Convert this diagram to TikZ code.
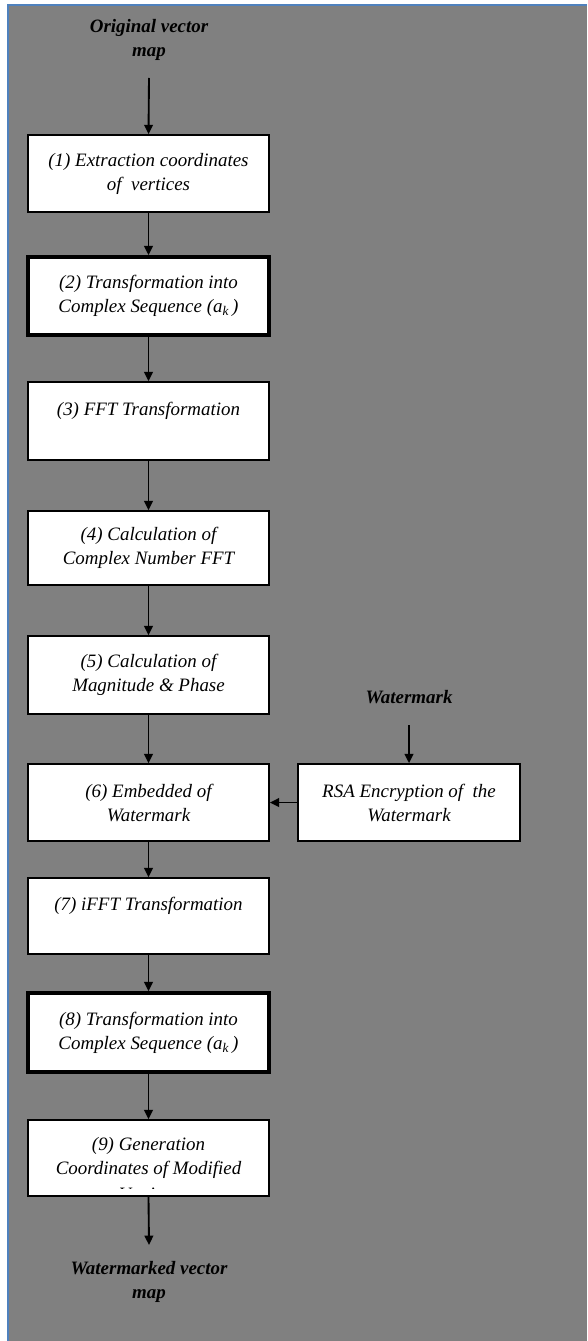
\documentclass[tikz,border=0pt]{standalone}
\usepackage{fontspec}
\setmainfont{Liberation Serif}
\usetikzlibrary{arrows.meta}
\definecolor{bggray}{HTML}{808080}
\definecolor{frameblue}{HTML}{4F81BD}
\begin{document}
\begin{tikzpicture}[x=0.75pt,y=-0.75pt,
  every node/.style={font=\fontsize{14.2pt}{18pt}\selectfont\itshape, align=center, inner sep=0pt},
  stepbox/.style={draw=black, fill=white, line width=1.3pt, minimum width=180.75pt},
  thickbox/.style={stepbox, line width=2.8pt},
  headlabel/.style={font=\fontsize{14.2pt}{18pt}\selectfont\bfseries\itshape},
  flow/.style={-{Triangle[length=7pt,width=6.5pt]}, line width=1.4pt}]
\useasboundingbox (0,0) rectangle (587,1341);
\fill[bggray] (8,5) rectangle (587,1341);
\draw[frameblue, line width=1.5pt] (8,1341) -- (8,5) -- (587,5);

\node[headlabel] (orig) at (149,40) {Original vector\\map};
\coordinate (origend) at (149,78);

\node[stepbox, minimum height=57.75pt] (b1) at (148.5,173.5) {(1) Extraction coordinates\\of\ \ vertices};
\node[thickbox, minimum height=58.5pt] (b2) at (148.5,296) {(2) Transformation into\\Complex Sequence (a\textsubscript{k}\,)};
\node[stepbox, minimum height=58.5pt] (b3) at (148.5,421) {(3) FFT Transformation\\\mbox{}};
\node[stepbox, minimum height=55.5pt] (b4) at (148.5,548) {(4) Calculation of\\Complex Number FFT};
\node[stepbox, minimum height=58.5pt] (b5) at (148.5,675) {(5) Calculation of\\Magnitude \& Phase};
\node[stepbox, minimum height=57.75pt] (b6) at (148.5,802.5) {(6) Embedded of\\Watermark};
\node[stepbox, minimum height=57.75pt, minimum width=166.5pt] (rsa) at (409,802.5) {RSA Encryption of\ \ the\\Watermark};
\node[headlabel] (wm) at (409,697) {Watermark};
\coordinate (wmend) at (409,725);
\node[stepbox, minimum height=57pt] (b7) at (148.5,916) {(7) iFFT Transformation\\\mbox{}};
\node[thickbox, minimum height=59.25pt] (b8) at (148.5,1032.5) {(8) Transformation into\\Complex Sequence (a\textsubscript{k}\,)};
\node[stepbox, minimum height=57pt] (b9) at (148.5,1158) {(9) Generation\\Coordinates of Modified};
\begin{scope}
  \clip (28,1120) rectangle (269,1188.5);
  \node[anchor=base] (b9rest) at (149,1200) {Vertices};
\end{scope}
\coordinate (b9end) at (149,1245);
\node[headlabel] (out) at (149,1281.5) {Watermarked vector\\map};

\draw[flow] (origend) -- (b1.north);
\draw[flow] (b1) -- (b2);
\draw[flow] (b2) -- (b3);
\draw[flow] (b3) -- (b4);
\draw[flow] (b4) -- (b5);
\draw[flow] (b5) -- (b6);
\draw[flow] (b6) -- (b7);
\draw[flow] (b7) -- (b8);
\draw[flow] (b8) -- (b9);
\draw[flow] (b9.south) -- (b9end);
\draw[flow] (wmend) -- (rsa.north);
\draw[flow] (rsa.west) -- (b6.east);
\end{tikzpicture}
\end{document}
